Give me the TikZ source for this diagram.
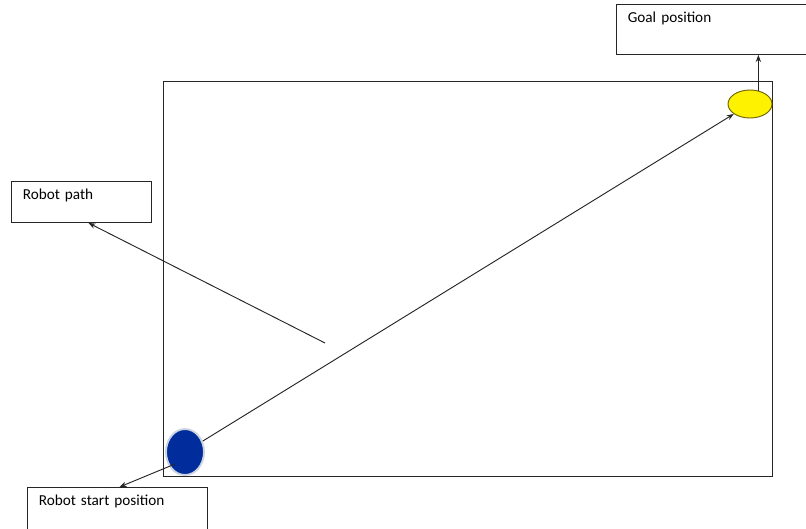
\documentclass[tikz,border=0pt]{standalone}
\usepackage{fontspec}
\setmainfont{Carlito}
\usetikzlibrary{arrows.meta, positioning, shapes.geometric, calc}

\definecolor{robotblue}{RGB}{0,45,155}
\definecolor{robotrim}{RGB}{205,212,225}
\definecolor{goalrim}{RGB}{110,100,0}

\begin{document}
\begin{tikzpicture}[x=0.03cm, y=-0.03cm, >={Stealth[length=6pt, width=4.5pt]},
    line width=0.8pt, draw=black!85,
    labelbox/.style={draw, anchor=north west, align=left,
        inner xsep=0.34cm, inner ysep=0.12cm,
        text height=0.435cm, font=\fontsize{13}{15}\selectfont}]
  \useasboundingbox (0,0) rectangle (806,529);

  % arena
  \node[draw, anchor=north west, minimum width=18.27cm, minimum height=11.85cm,
        inner sep=0pt] (arena) at (163,81) {};

  % label boxes
  \node[labelbox, text width=5.4cm, text depth=0.825cm]
    (goalbox) at (616,4) {Goal position};
  \node[labelbox, text width=3.52cm, text depth=0.555cm]
    (pathbox) at (11,181) {Robot path};
  \node[labelbox, text width=4.72cm, text depth=0.75cm]
    (startbox) at (27,487) {Robot start position};

  % robot and goal
  \node[ellipse, draw=goalrim, fill=yellow, minimum width=1.32cm,
        minimum height=0.84cm, inner sep=0pt] (goal) at (750,104) {};
  \node[ellipse, draw=robotrim, line width=1.6pt, fill=robotblue,
        minimum width=1.14cm, minimum height=1.38cm, inner sep=0pt]
    (start) at (185,452) {};

  \coordinate (pathtail) at (325,343);
  \coordinate (starttail) at (175,464);

  \draw[->] (start) -- (goal);
  \draw[->] (goal.58) -- (goal.58 |- goalbox.south);
  \draw[->] (pathtail) -- ($(pathbox.south)+(7,0)$);
  \draw[->] (starttail) -- ($(startbox.north)+(2,0)$);
\end{tikzpicture}
\end{document}
